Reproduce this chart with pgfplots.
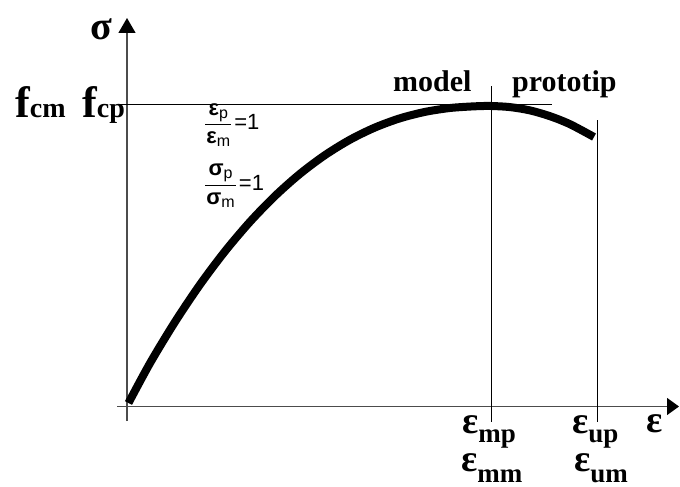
\documentclass[border=0pt]{standalone}
\usepackage{amsmath}
\usepackage{fontspec}
\setmainfont{Liberation Serif}
\newfontfamily\sans{Liberation Sans}
\usepackage{pgfplots}
\pgfplotsset{compat=1.18}
\usetikzlibrary{arrows.meta}
\newcommand\lab[5]{{\bfseries\fontsize{#1}{#1}\selectfont #2}\raisebox{#5}[0pt][0pt]{\bfseries\fontsize{#3}{#3}\selectfont #4}}
\newcommand\fr[3]{\sans\fontsize{22}{26}\selectfont $\dfrac{\text{\kern1pt\bfseries #1\mdseries\raisebox{-3pt}{\fontsize{16}{16}\selectfont #2}\kern1pt}}{\text{\kern1pt\bfseries #1\mdseries\raisebox{-3pt}{\fontsize{16}{16}\selectfont #3}\kern1pt}}$\kern2pt=1}
\begin{document}
\begin{tikzpicture}
\begin{axis}[
  x=1pt, y=1pt, xmin=0, xmax=680, ymin=0, ymax=487,
  y dir=reverse, hide axis, clip=false,
]
\addplot[draw=none] coordinates {(0,0) (680,487)};
% axes
\addplot[black!70, line width=1.3pt, -{Triangle[length=15pt,width=17pt,black]}] coordinates {(127,421) (127,18)};
\addplot[black!70, line width=1.3pt, -{Triangle[length=12pt,width=17pt,black]}] coordinates {(117,406.5) (679,406.5)};
% guide lines
\addplot[black, line width=1pt] coordinates {(120,104.5) (552,104.5)};
\addplot[black, line width=1pt] coordinates {(491,86) (491,422)};
\addplot[black, line width=1pt] coordinates {(597,120) (597,422)};
% curve
\addplot[black, line width=8pt, smooth] coordinates {
(128.5,403) (150,363.2) (175,321.9) (200,284.6) (225,251.3) (250,221.8) (275,196.0)
(300,173.8) (325,155.1) (350,139.7) (375,127.5) (400,118.3) (425,111.9) (450,108.0)
(475,106.3) (491,106) (510,107.1) (530,110.4) (550,116.2) (570,124.2) (594,137)};
% labels
\node[inner sep=0, anchor=base] at (axis cs:101,40) {\bfseries\fontsize{40}{40}\selectfont σ};
\node[inner sep=0, anchor=base west] at (axis cs:15,117) {\lab{44}{f}{28}{cm}{-1pt}};
\node[inner sep=0, anchor=base west] at (axis cs:82,117) {\lab{44}{f}{28}{cp}{-1pt}};
\node[inner sep=0, anchor=base west] at (axis cs:393,92) {\bfseries\fontsize{30}{30}\selectfont model};
\node[inner sep=0, anchor=base west] at (axis cs:512,92) {\bfseries\fontsize{30}{30}\selectfont prototip};
\node[inner sep=0, anchor=base west] at (axis cs:462,433) {\lab{38}{ε}{27}{mp}{-9pt}};
\node[inner sep=0, anchor=base west] at (axis cs:461,471) {\lab{38}{ε}{27}{mm}{-11pt}};
\node[inner sep=0, anchor=base west] at (axis cs:572,433) {\lab{38}{ε}{27}{up}{-9pt}};
\node[inner sep=0, anchor=base west] at (axis cs:574,471) {\lab{38}{ε}{27}{um}{-11pt}};
\node[inner sep=0, anchor=base west] at (axis cs:646,432) {\bfseries\fontsize{38}{38}\selectfont ε};
% fractions
\node[inner sep=0, anchor=west] at (axis cs:204,125) {\fr{ε}{p}{m}};
\node[inner sep=0, anchor=west] at (axis cs:204,186) {\fr{σ}{p}{m}};
\end{axis}
\end{tikzpicture}
\end{document}
